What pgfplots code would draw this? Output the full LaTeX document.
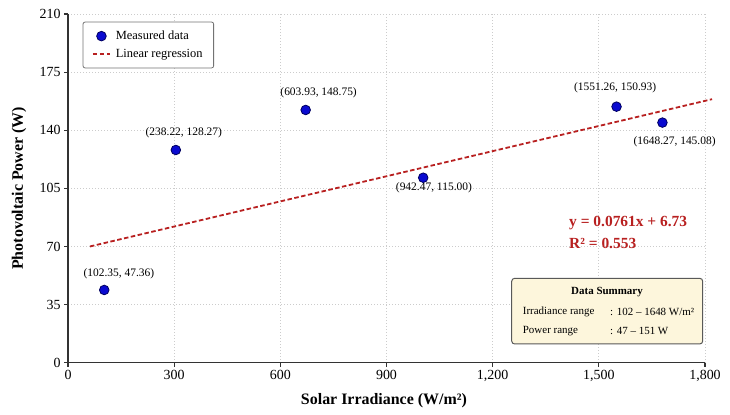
\documentclass[border=0pt]{standalone}
\usepackage{fontspec}
\setmainfont{Liberation Serif}
\usepackage{pgfplots}
\pgfplotsset{compat=1.18}
\definecolor{ptblue}{HTML}{0A0AD0}
\definecolor{ptnavy}{HTML}{000060}
\definecolor{regred}{HTML}{B82020}
\definecolor{boxfill}{HTML}{FDF6DC}
\begin{document}
\begin{tikzpicture}
\useasboundingbox (0,0) rectangle (730bp,415bp);
\begin{axis}[
 at={(68bp,52.3bp)}, anchor=south west, scale only axis,
 width=637bp, height=348.7bp,
 xmin=0, xmax=1800, ymin=0, ymax=210,
 xtick={0,300,...,1800}, ytick={0,35,...,210},
 scaled ticks=false,
 clip=false,
 axis lines=left, axis line style={-, line width=1.4bp, color=black!80},
 tick align=outside, major tick length=4bp, tick style={line width=1.2bp, color=black!80},
 grid=major, major grid style={dash pattern=on 1bp off 2bp, line width=0.9bp, color=black!20},
 /pgf/number format/assume math mode=true,
 /pgf/number format/1000 sep={,},
 ticklabel style={font=\fontsize{14}{16}\selectfont},
 xlabel={Solar Irradiance (W/m²)},
 ylabel={Photovoltaic Power (W)},
 label style={font=\bfseries\fontsize{16}{18}\selectfont},
 xlabel style={at={(axis description cs:0.496,-0.109)}, anchor=center},
 ylabel style={at={(axis description cs:-0.077,0.5)}, anchor=center},
 legend style={at={(0.023,0.978)}, anchor=north west, draw=black!55, rounded corners=2bp,
   font=\fontsize{12.5}{14}\selectfont, inner xsep=9bp, inner ysep=7bp, row sep=4bp,
   column sep=3bp, line width=0.8bp},
 legend cell align=left,
]
\addplot[only marks, mark=*, mark size=4.8bp, mark options={fill=ptblue, draw=ptnavy, line width=0.8bp}]
 coordinates {(102.4,43.8) (304.7,128.1) (671.6,152.2) (1003.7,111.4) (1550,154.2) (1679.7,144.6)};
\addlegendentry{Measured data}
\addplot[regred, line width=1.8bp, dash pattern=on 4.5bp off 2.5bp] coordinates {(62,70) (1820,158.7)};
\addlegendentry{Linear regression}
\node[font=\fontsize{11.5}{13}\selectfont] at (axis cs:143.9,53.4) {(102.35, 47.36)};
\node[font=\fontsize{11.5}{13}\selectfont] at (axis cs:327.3,138.6) {(238.22, 128.27)};
\node[font=\fontsize{11.5}{13}\selectfont] at (axis cs:708.2,162.7) {(603.93, 148.75)};
\node[font=\fontsize{11.5}{13}\selectfont] at (axis cs:1034,105.4) {(942.47, 115.00)};
\node[font=\fontsize{11.5}{13}\selectfont] at (axis cs:1546,165.3) {(1551.26, 150.93)};
\node[font=\fontsize{11.5}{13}\selectfont] at (axis cs:1714,133.1) {(1648.27, 145.08)};
\end{axis}
\node[anchor=west, text=regred, font=\bfseries\fontsize{15.5}{17}\selectfont, inner sep=0] at (569bp,191.5bp) {y = 0.0761x + 6.73};
\node[anchor=west, text=regred, font=\bfseries\fontsize{15.5}{17}\selectfont, inner sep=0] at (569bp,171.5bp) {R² = 0.553};
\draw[draw=black!65, fill=boxfill, line width=1bp, rounded corners=3bp] (511.7bp,71bp) rectangle (702.7bp,136.7bp);
\node[font=\bfseries\fontsize{11}{13}\selectfont] at (607bp,123.3bp) {Data Summary};
\node[anchor=west, inner sep=0, font=\fontsize{11}{13}\selectfont] at (522.7bp,103.3bp) {Irradiance range};
\node[anchor=west, inner sep=0, font=\fontsize{11}{13}\selectfont] at (610bp,103.3bp) {: 102 – 1648 W/m²};
\node[anchor=west, inner sep=0, font=\fontsize{11}{13}\selectfont] at (522.7bp,84bp) {Power range};
\node[anchor=west, inner sep=0, font=\fontsize{11}{13}\selectfont] at (610bp,84bp) {: 47 – 151 W};
\end{tikzpicture}
\end{document}
